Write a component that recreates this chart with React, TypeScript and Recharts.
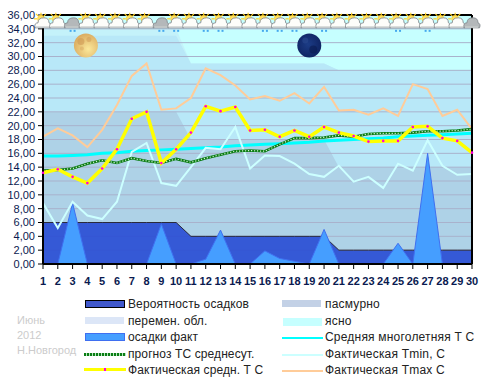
import {
    ComposedChart,
    Area,
    Line,
    XAxis,
    YAxis,
    CartesianGrid,
    ReferenceLine,
    ReferenceDot
} from "recharts"

const days = [1, 2, 3, 4, 5, 6, 7, 8, 9, 10, 11, 12, 13, 14, 15, 16, 17, 18, 19, 20, 21, 22, 23, 24, 25, 26, 27, 28, 29, 30]
const clearSky = [36, 36, 36, 36, 36, 36, 36, 36, 36, 36, 36, 36, 36, 36, 36, 36, 36, 36, 36, 36, 36, 36, 36, 36, 36, 36, 36, 36, 36, 36]
const haze = [34, 34, 34, 34, 34, 34, 34, 34, 34, 34, 29, 29, 29, 29, 29, 29, 29, 29, 29, 29, 28, 28, 28, 28, 28, 28, 28, 28, 28, 28]
const partly = [33, 33, 33, 33, 33, 33, 33, 33, 33, 33, 29, 29, 29, 29, 29, 29, 29, 29, 29, 29, 28, 28, 28, 28, 28, 28, 28, 28, 28, 28]
const overcast = [22, 22, 22, 22, 22, 22, 22, 22, 22, 22, 18, 18, 18, 18, 18, 18, 18, 18, 18, 18, 14, 14, 14, 14, 14, 14, 14, 14, 14, 14]
const rainChance = [6, 6, 6, 6, 6, 6, 6, 6, 6, 6, 4, 4, 4, 4, 4, 4, 4, 4, 4, 4, 2, 2, 2, 2, 2, 2, 2, 2, 2, 2]
const rainFact = [0, 0, 8.8, 0, 0, 0, 0, 0, 5.8, 0, 0, 0.7, 4.9, 0, 0, 1.9, 0.8, 0.4, 0, 5, 0, 0, 0, 0, 3, 0, 16, 0, 0, 0]
const climate = [15.6, 15.6, 15.7, 15.8, 16, 16.1, 16.3, 16.4, 16.5, 16.6, 16.7, 16.8, 16.9, 17.1, 17.2, 17.3, 17.4, 17.5, 17.6, 17.8, 17.9, 18, 18.1, 18.2, 18.4, 18.5, 18.6, 18.7, 18.8, 18.9]
const forecast = [13.5, 13.6, 13.8, 14.5, 15, 14.6, 15.3, 14.9, 14.6, 15.2, 14.7, 15.3, 15.8, 16.3, 16.4, 16.3, 17.3, 18.2, 18.2, 18.3, 18.6, 18.4, 18.8, 18.9, 18.9, 19, 19.2, 19.2, 19.3, 19.5]
const tMean = [13.2, 13.7, 12.6, 11.7, 13.8, 16.6, 21, 22, 14.6, 16.6, 19, 22.8, 22.1, 22.7, 19.3, 19.4, 18.4, 19.3, 18.4, 19.8, 19, 18.5, 17.7, 17.8, 17.8, 19.8, 19.9, 18.2, 17.8, 16.1]
const tMin = [8.8, 5.2, 9, 7, 6.5, 9, 16.2, 17.5, 11.7, 11.3, 14, 16.8, 16.6, 19.8, 13.8, 15.7, 15.6, 14.5, 13, 12.6, 14.2, 11.9, 12.6, 11, 14.5, 13.5, 17.9, 14.2, 12.9, 13]
const tMax = [18.4, 19.6, 18.6, 16.9, 19.4, 23, 27.2, 29, 22.3, 22.5, 24, 28.3, 27.3, 25.8, 23.8, 24.3, 23.6, 24.7, 23.2, 25.6, 22.2, 22.3, 21.6, 22.5, 21.4, 26, 25.3, 21.4, 22.3, 19.5]
const iconLevel = [34, 34, 34, 34, 34, 34, 34, 34, 34, 34, 34, 34, 34, 34, 34, 34, 34, 34, 34, 34, 34, 34, 34, 34, 34, 34, 34, 34, 34, 34]
// 0 - солнце с облаком, 1 - серая туча, 2 - туча без солнца
const sky = [0, 0, 1, 0, 0, 0, 0, 0, 1, 0, 0, 0, 0, 0, 0, 0, 0, 0, 0, 0, 0, 0, 0, 0, 0, 0, 0, 0, 0, 2]
const rainyDays = [3, 9, 10, 12, 13, 16, 17, 18, 20, 25, 27]
const yTicks = [0, 2, 4, 6, 8, 10, 12, 14, 16, 18, 20, 22, 24, 26, 28, 30, 32, 34, 36]
const placeNote = ["Июнь", "2012", "Н.Новгород"]
const legendLeft = ["Вероятность осадков", "перемен. обл.", "осадки факт", "прогноз ТС среднесут.", "Фактическая средн. Т С"]
const legendRight = ["пасмурно", "ясно", "Средняя многолетняя Т С", "Фактическая Tmin, С", "Фактическая Tmax С"]

const chartData = days.map((day, i) => ({
    day,
    clearSky: clearSky[i],
    haze: haze[i],
    partly: partly[i],
    overcast: overcast[i],
    rainChance: rainChance[i],
    rainFact: rainFact[i],
    climate: climate[i],
    forecast: forecast[i],
    tMean: tMean[i],
    tMin: tMin[i],
    tMax: tMax[i],
    iconLevel: iconLevel[i]
}))

const FONT = "'Liberation Sans', Arial, sans-serif"
const ROWS = [304, 321, 337, 354, 370]

function WeatherIcon(props: any) {
    const { cx, cy, index } = props
    if (cx == null || cy == null) return null
    const kind = sky[index]
    const day = days[index]
    const base = cy - 1
    const body = kind === 0 ? "#fdfdfa" : "#b4b8ba"
    return (
        <g key={day}>
            {kind === 0 && (
                <g stroke="#ffd020" strokeWidth={1.2}>
                    <circle cx={cx - 2} cy={base - 9} r={3.5} fill="#ffe060" strokeWidth={0.6} />
                    <line x1={cx - 2} y1={base - 15} x2={cx - 2} y2={base - 12} />
                    <line x1={cx + 3} y1={base - 14} x2={cx + 1} y2={base - 12} />
                    <line x1={cx - 7} y1={base - 14} x2={cx - 5} y2={base - 12} />
                    <line x1={cx - 9} y1={base - 9} x2={cx - 6} y2={base - 9} />
                </g>
            )}
            <path
                d={`M${cx - 8} ${base} q-1 -5 3 -5 q0 -5 6 -5 q5 0 5 5 q3 1 1.5 5 z`}
                fill={body}
                stroke="#858b90"
                strokeWidth={0.9}
            />
            <rect x={cx - 7} y={base - 1.5} width={13} height={1.5} fill="#c8cccc" />
            {rainyDays.includes(day) && (
                <g fill="#45a8ee">
                    <rect x={cx - 3} y={base + 2} width={2} height={2} />
                    <rect x={cx + 1} y={base + 2} width={2} height={2} />
                </g>
            )}
        </g>
    )
}

function MeanDot(props: any) {
    const { cx, cy, index } = props
    return <circle key={index} cx={cx} cy={cy} r={1.3} fill="#ff00e0" />
}

function FullMoon(props: any) {
    const { cx, cy } = props
    return (
        <g>
            <circle cx={cx} cy={cy} r={12} fill="url(#fullMoon)" />
            <circle cx={cx - 5} cy={cy - 4} r={3.5} fill="#cf9a55" opacity={0.6} />
            <circle cx={cx + 3} cy={cy - 6} r={2.5} fill="#cf9a55" opacity={0.5} />
            <circle cx={cx - 4} cy={cy + 3} r={2} fill="#d8a860" opacity={0.5} />
        </g>
    )
}

function NewMoon(props: any) {
    const { cx, cy } = props
    return (
        <g>
            <circle cx={cx} cy={cy} r={12} fill="url(#newMoon)" />
            <circle cx={cx - 4} cy={cy - 5} r={3} fill="#2a4a90" opacity={0.6} />
            <circle cx={cx + 4} cy={cy + 4} r={4} fill="#0a1a50" opacity={0.6} />
        </g>
    )
}

function Swatch({ left, top, width, height, color, border, image }: any) {
    return (
        <div
            style={{
                position: "absolute",
                left,
                top,
                width,
                height,
                background: image || color,
                border: border ? `1px solid ${border}` : "none",
                boxSizing: "border-box"
            }}
        />
    )
}

function LegendBlock() {
    const label = (text: string, left: number, center: number, spacing: number) => (
        <div
            key={text}
            style={{ position: "absolute", left, top: center - 8, height: 16, lineHeight: "16px", fontSize: 12, letterSpacing: spacing, color: "#222", whiteSpace: "nowrap" }}
        >
            {text}
        </div>
    )
    return (
        <div style={{ position: "absolute", left: 0, top: 0, width: 486, height: 384, fontFamily: FONT }}>
            {placeNote.map((text, i) => (
                <div
                    key={text}
                    style={{ position: "absolute", left: 17, top: 313 + i * 15, fontSize: 11, lineHeight: "14px", color: "#cccccc" }}
                >
                    {text}
                </div>
            ))}
            <Swatch left={85} top={300} width={40} height={8} color="#4058cc" border="#000" />
            <Swatch left={85} top={317} width={39} height={7} color="#dce6f7" />
            <Swatch left={85} top={333} width={40} height={8} color="#459eff" border="#3f6ff0" />
            <Swatch left={84} top={353} width={42} height={3} image="repeating-linear-gradient(90deg, #0b7d14 0 2px, #b8e8c0 2px 3px)" />
            <Swatch left={84} top={368} width={42} height={3} color="#ffff00" />
            <Swatch left={104} top={368} width={2} height={3} color="#ff00e0" />
            <Swatch left={282} top={300} width={39} height={7} color="#c3d1e6" />
            <Swatch left={283} top={318} width={39} height={8} color="#c6ffff" />
            <Swatch left={282} top={337} width={41} height={2} color="#00ffff" />
            <Swatch left={282} top={354} width={41} height={2} color="#ccffff" />
            <Swatch left={282} top={370} width={41} height={2} color="#ffcc99" />
            {legendLeft.map((text, i) => label(text, 128, ROWS[i], 0.1))}
            {legendRight.map((text, i) => label(text, 325, ROWS[i], 0.2))}
        </div>
    )
}

export default function App() {
    return (
        <div style={{ position: "absolute", left: 0, top: 0, width: 486, height: 384, background: "#fff" }}>
            <ComposedChart
                width={486}
                height={384}
                data={chartData}
                margin={{ top: 15, right: 14, bottom: 0, left: 0 }}
                style={{ fontFamily: FONT }}
            >
                <defs>
                    <radialGradient id="fullMoon" cx="60%" cy="65%" r="70%">
                        <stop offset="0%" stopColor="#fbe89a" />
                        <stop offset="100%" stopColor="#d9a85c" />
                    </radialGradient>
                    <radialGradient id="newMoon" cx="45%" cy="45%" r="70%">
                        <stop offset="0%" stopColor="#1c3c86" />
                        <stop offset="100%" stopColor="#0c1e5a" />
                    </radialGradient>
                </defs>
                <XAxis
                    dataKey="day"
                    type="number"
                    domain={[1, 30]}
                    ticks={days}
                    interval={0}
                    height={120}
                    tickSize={5}
                    tickMargin={8}
                    axisLine={{ stroke: "#000", strokeWidth: 2 }}
                    tickLine={{ stroke: "#000" }}
                    tick={{ fontSize: 11, fontWeight: 700, fill: "#0a1a50" }}
                />
                <YAxis
                    type="number"
                    domain={[0, 36]}
                    ticks={yTicks}
                    interval={0}
                    width={43}
                    tickSize={5}
                    tickMargin={3}
                    axisLine={{ stroke: "#000", strokeWidth: 2 }}
                    tickLine={{ stroke: "#000" }}
                    tickFormatter={(v: number) => v.toFixed(2).replace(".", ",")}
                    tick={{ fontSize: 11, fill: "#0a1a50" }}
                />
                <Area zIndex={-300} dataKey="clearSky" type="linear" fill="#c6ffff" fillOpacity={1} stroke="none" isAnimationActive={false} />
                <Area zIndex={-290} dataKey="haze" type="linear" fill="#c4f2fa" fillOpacity={1} stroke="none" isAnimationActive={false} />
                <Area zIndex={-280} dataKey="partly" type="linear" fill="#b8e8f8" fillOpacity={1} stroke="none" isAnimationActive={false} />
                <Area zIndex={-270} dataKey="overcast" type="linear" fill="#aed2e7" fillOpacity={1} stroke="none" isAnimationActive={false} />
                <CartesianGrid zIndex={-100} horizontal vertical={false} stroke="#a9b2cc" strokeWidth={1} />
                <Area dataKey="rainChance" type="linear" fill="#284bd4" fillOpacity={0.9} stroke="#2a2a3a" strokeWidth={1} isAnimationActive={false} />
                <Area dataKey="rainFact" type="linear" fill="#459eff" fillOpacity={1} stroke="#3f6ff0" strokeWidth={1} isAnimationActive={false} />
                <Line dataKey="climate" type="linear" stroke="#00ffff" strokeWidth={3} dot={false} isAnimationActive={false} />
                <Line dataKey="tMin" type="linear" stroke="#ccffff" strokeWidth={2} dot={false} isAnimationActive={false} />
                <Line dataKey="tMax" type="linear" stroke="#ffcc99" strokeWidth={2} dot={false} isAnimationActive={false} />
                <Line dataKey="forecast" type="linear" stroke="#0b7d14" strokeWidth={2.6} dot={false} isAnimationActive={false} />
                <Line dataKey="forecast" type="linear" stroke="#d0f0d0" strokeWidth={1.2} strokeDasharray="1.2 1.8" dot={false} isAnimationActive={false} />
                <Line dataKey="tMean" type="linear" stroke="#ffff00" strokeWidth={3.5} dot={<MeanDot />} isAnimationActive={false} />
                <ReferenceLine y={36} stroke="#000" strokeWidth={2} />
                <ReferenceLine x={30} stroke="#000" strokeWidth={2} />
                <Line zIndex={1000} dataKey="iconLevel" type="linear" stroke="none" dot={<WeatherIcon />} isAnimationActive={false} />
                <ReferenceDot x={3.9} y={31.6} r={12} shape={<FullMoon />} />
                <ReferenceDot x={19} y={31.6} r={12} shape={<NewMoon />} />
            </ComposedChart>
            <LegendBlock />
        </div>
    )
}
